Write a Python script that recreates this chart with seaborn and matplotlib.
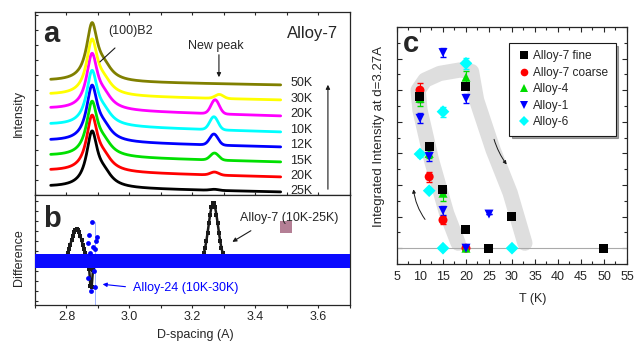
import numpy as np
import pandas as pd
import matplotlib
matplotlib.use('Agg')
import matplotlib.pyplot as plt
import seaborn as sns
from matplotlib.ticker import MultipleLocator, NullFormatter, FormatStrFormatter

sns.set_theme(style='ticks')
plt.rcParams['font.family'] = ['Liberation Sans', 'DejaVu Sans']

# ---------------- Panel a: stacked diffraction profiles ----------------
temps_a = ['25K', '20K', '15K', '12K', '10K', '20K', '30K', '50K']          # bottom -> top
colors_a = ['#000000', '#ff0000', '#00e000', '#0000ff', '#00ffff', '#ff00ff', '#ffff00', '#808000']
base_left = [8, 24, 39, 54, 70, 86, 100, 114]      # baseline at d=2.75
base_right = [3, 18, 33, 48, 63, 79, 95, 110]      # baseline at d=3.48
main_height = [53, 53, 52, 53, 52, 53, 53, 55]     # (100)B2 peak height
new_height = [1, 3, 7, 11, 13, 14, 4, 0]           # new peak height
new_center = [3.27, 3.27, 3.27, 3.268, 3.268, 3.272, 3.285, 3.29]
main_center = 2.881
main_hwhm = 0.021
shoulder_center = 2.92
shoulder_frac = 0.2
shoulder_hwhm = 0.03
new_sigma = 0.013
d_range_a = [2.75, 3.48]

# ---------------- Panel b: difference curves ----------------
diff_centers = [2.832, 2.878, 3.266]
diff_heights = [32, -30, 58]
diff_sigmas = [0.017, 0.004, 0.015]
band_half = 7
blue_spike_d = [2.880, 2.872, 2.896, 2.868, 2.884, 2.876, 2.890, 2.869, 2.877, 2.890, 2.886, 2.893]
blue_spike_y = [39, 26, 24, 18, 14, 8, 12, -17, -30, -26, -10, 20]

# ---------------- Panel c: integrated intensity vs T ----------------
T_fine = [10, 12, 15, 20, 20, 25, 30, 50]
I_fine = [4.79, 3.21, 1.86, 0.58, 5.13, 0, 1.0, 0]
E_fine = [0.15, 0.1, 0.1, 0, 0.1, 0, 0, 0]
T_coarse = [10, 12, 15, 20]
I_coarse = [5.0, 2.26, 0.89, 0]
E_coarse = [0.23, 0.16, 0.12, 0]
T_a4 = [10, 12, 15, 20, 20]
I_a4 = [4.74, 3.0, 1.74, 5.41, 0]
E_a4 = [0.24, 0.15, 0.24, 0.19, 0]
T_a1 = [10, 12, 15, 15, 20, 20, 25]
I_a1 = [4.11, 2.9, 6.19, 1.19, 4.74, 0, 1.08]
E_a1 = [0.16, 0.15, 0.13, 0.13, 0.13, 0, 0]
T_a6 = [10, 12, 15, 15, 20, 30]
I_a6 = [2.98, 1.82, 4.32, 0, 5.85, 0]
E_a6 = [0.1, 0.05, 0.16, 0, 0.18, 0]
band_T = [18.3, 15.8, 12.5, 10.0, 9.6, 11.1, 14.3, 18.7, 21.2, 22.3, 25.9, 29.6, 32.8]
band_I = [0.16, 1.10, 2.79, 4.37, 5.0, 5.32, 5.53, 5.64, 5.59, 4.69, 3.11, 1.75, 0.16]

# ---------------- figure ----------------
fig = plt.figure(figsize=(6.37, 3.48), dpi=100)
axa = fig.add_axes([0.0549, 0.4397, 0.4945, 0.5259])
axb = fig.add_axes([0.0549, 0.1236, 0.4945, 0.3161], sharex=axa)
axc = fig.add_axes([0.6232, 0.2414, 0.3611, 0.6810])

FS = 9

# panel a curves
d_a = np.linspace(d_range_a[0], d_range_a[1], 600)
rows = []
for i, t in enumerate(temps_a):
    base = base_left[i] + (base_right[i] - base_left[i]) * (d_a - d_range_a[0]) / (d_range_a[1] - d_range_a[0])
    prof = main_height[i] * (1.0 / (1 + ((d_a - main_center) / main_hwhm) ** 2))
    prof += main_height[i] * shoulder_frac / (1 + ((d_a - shoulder_center) / shoulder_hwhm) ** 2)
    prof += new_height[i] * np.exp(-0.5 * ((d_a - new_center[i]) / new_sigma) ** 2)
    for x, y in zip(d_a, base + prof):
        rows.append((f'{i}_{t}', x, y))
df_a = pd.DataFrame(rows, columns=['curve', 'd', 'I'])
sns.lineplot(data=df_a, x='d', y='I', hue='curve', palette=colors_a, legend=False,
             lw=2.0, ax=axa, estimator=None, sort=False)
axa.set_ylim(0, 183)
axa.set_xlim(2.7, 3.7)
label_y = [4, 19, 34, 50, 65, 81, 96, 112]
for t, ly in zip(temps_a, label_y):
    axa.text(3.51, ly, t, fontsize=FS, va='center', ha='left')
axa.annotate('', xy=(3.63, 113), xytext=(3.63, 3),
             arrowprops=dict(arrowstyle='-|>', lw=0.8, color='k', mutation_scale=6))
axa.text(2.932, 164, '(100)B2', fontsize=FS, va='center', ha='left')
axa.plot([2.954, 2.906], [147, 133], color='k', lw=0.8)
axa.text(3.186, 149, 'New peak', fontsize=FS, va='center', ha='left')
axa.annotate('', xy=(3.284, 115), xytext=(3.284, 143),
             arrowprops=dict(arrowstyle='-|>', lw=0.8, color='k', mutation_scale=6))
axa.text(3.50, 161, 'Alloy-7', fontsize=12, va='center', ha='left')
axa.text(0.025, 0.88, 'a', transform=axa.transAxes, fontsize=21, fontweight='bold', va='center', ha='left')
axa.set_ylabel('Intensity', fontsize=FS)
axa.yaxis.set_label_coords(-0.032, 0.443)
axa.set_xlabel('')
axa.yaxis.set_major_locator(MultipleLocator(15))
axa.yaxis.set_major_formatter(NullFormatter())
axa.xaxis.set_major_locator(MultipleLocator(0.1))
axa.tick_params(axis='x', which='both', top=True, bottom=False, direction='in', length=2.5,
                labelbottom=False, width=0.8)
axa.tick_params(axis='y', which='both', left=True, right=False, direction='in', length=2.5, width=0.8)

# panel b
d_b = np.arange(2.70, 3.7001, 0.004)
black = np.zeros_like(d_b)
for c, h, s in zip(diff_centers, diff_heights, diff_sigmas):
    black += h * np.exp(-0.5 * ((d_b - c) / s) ** 2)
df_b = pd.DataFrame({'d': d_b, 'diff': black})
axb.plot(df_b['d'], df_b['diff'], color='k', linewidth=1.8, linestyle='-', marker='s',
         markersize=2.8, markeredgewidth=0, zorder=2.5)
axb.fill_between(d_b, -band_half, band_half, color='#0a0aff', lw=0, zorder=3)
axb.plot([2.89, 2.89], [39, -44], color='#9fb3ff', lw=0.7, zorder=2)
sns.scatterplot(x=blue_spike_d, y=blue_spike_y, color='#0000ff', s=12, linewidth=0, ax=axb, zorder=4)
axb.plot([3.496], [34], marker='s', markersize=8, color='#b47f95', markeredgewidth=0)
axb.set_ylim(-44, 66)
axb.text(3.351, 43, 'Alloy-7 (10K-25K)', fontsize=FS, va='center', ha='left')
axb.annotate('', xy=(3.319, 17.7), xytext=(3.393, 31.7),
             arrowprops=dict(arrowstyle='-|>', lw=0.8, color='k', mutation_scale=6))
axb.text(3.012, -27, 'Alloy-24 (10K-30K)', fontsize=FS, va='center', ha='left', color='#0000ff')
axb.annotate('', xy=(2.906, -23), xytext=(2.996, -26),
             arrowprops=dict(arrowstyle='-|>', lw=0.8, color='#0000ff', mutation_scale=6))
axb.text(0.025, 0.78, 'b', transform=axb.transAxes, fontsize=21, fontweight='bold', va='center', ha='left')
axb.set_ylabel('Difference', fontsize=FS)
axb.yaxis.set_label_coords(-0.032, 0.427)
axb.set_xlabel('D-spacing (A)', fontsize=FS)
axb.xaxis.set_label_coords(0.51, -0.22)
axb.set_xlim(2.7, 3.7)
axb.xaxis.set_major_locator(MultipleLocator(0.2))
axb.xaxis.set_minor_locator(MultipleLocator(0.1))
axb.xaxis.set_major_formatter(FormatStrFormatter('%.1f'))
axb.yaxis.set_major_locator(MultipleLocator(10))
axb.yaxis.set_major_formatter(NullFormatter())
axb.tick_params(axis='x', which='both', bottom=True, top=True, direction='out', length=2.5,
                width=0.8, labelsize=FS, pad=1.5)
axb.tick_params(axis='y', which='both', left=True, direction='in', length=2.5, width=0.8)
for ax in (axa, axb, axc):
    for sp in ax.spines.values():
        sp.set_linewidth(0.9)
        sp.set_visible(True)

# panel c
axc.plot(band_T, band_I, color='#dedede', lw=11, solid_capstyle='round', solid_joinstyle='round', zorder=1)
axc.axhline(0, color='#aaaaaa', lw=0.8, zorder=1.5)
series = [('Alloy-7 coarse', T_coarse, I_coarse, E_coarse),
          ('Alloy-4', T_a4, I_a4, E_a4),
          ('Alloy-6', T_a6, I_a6, E_a6),
          ('Alloy-1', T_a1, I_a1, E_a1),
          ('Alloy-7 fine', T_fine, I_fine, E_fine)]
col = {'Alloy-7 fine': '#000000', 'Alloy-7 coarse': '#ff0000', 'Alloy-4': '#00dd00',
       'Alloy-1': '#0000ff', 'Alloy-6': '#00ffff'}
mk = {'Alloy-7 fine': 's', 'Alloy-7 coarse': 'o', 'Alloy-4': '^', 'Alloy-1': 'v', 'Alloy-6': 'D'}
rows = []
for name, T, I, E in series:
    for t, v, e in zip(T, I, E):
        rows.append((name, t, v, e))
df_c = pd.DataFrame(rows, columns=['series', 'T', 'I', 'E'])
for name, T, I, E in series:
    axc.errorbar(T, I, yerr=E, fmt='none', ecolor=col[name], elinewidth=0.8, capsize=2, zorder=2)
order = ['Alloy-7 fine', 'Alloy-7 coarse', 'Alloy-4', 'Alloy-1', 'Alloy-6']
sns.scatterplot(data=df_c, x='T', y='I', hue='series', style='series', hue_order=order,
                style_order=order, palette=col, markers=mk, s=42, linewidth=0, ax=axc, zorder=3)
axc.annotate('', xy=(8.54, 1.95), xytext=(11.46, 0.84),
             arrowprops=dict(arrowstyle='-|>', lw=0.7, color='k', mutation_scale=5,
                             connectionstyle='arc3,rad=-0.15'))
axc.annotate('', xy=(29.2, 2.58), xytext=(25.93, 3.53),
             arrowprops=dict(arrowstyle='-|>', lw=0.7, color='k', mutation_scale=5,
                             connectionstyle='arc3,rad=0.1'))
axc.set_xlim(5, 55)
axc.set_ylim(-0.5, 7.0)
axc.xaxis.set_major_locator(MultipleLocator(5))
axc.xaxis.set_minor_locator(MultipleLocator(2.5))
axc.yaxis.set_major_locator(MultipleLocator(1))
axc.yaxis.set_minor_locator(MultipleLocator(0.5))
axc.yaxis.set_major_formatter(NullFormatter())
axc.tick_params(axis='both', which='both', direction='in', top=True, right=True, width=0.8)
axc.tick_params(axis='both', which='major', length=3.5)
axc.tick_params(axis='both', which='minor', length=2)
axc.tick_params(axis='x', labelsize=FS, pad=5)
axc.set_xlabel('T (K)', fontsize=FS)
axc.xaxis.set_label_coords(0.589, -0.122)
axc.set_ylabel('Integrated Intensity at d=3.27A', fontsize=9.5)
axc.yaxis.set_label_coords(-0.052, 0.54)
axc.text(0.025, 0.93, 'c', transform=axc.transAxes, fontsize=21, fontweight='bold', va='center', ha='left')
h, l = axc.get_legend_handles_labels()
leg = axc.legend(h, l, loc='upper left', bbox_to_anchor=(0.463, 0.957), fontsize=8.6,
                 frameon=True, fancybox=False, shadow=True, edgecolor='k', framealpha=1,
                 handletextpad=0.2, borderpad=0.6, labelspacing=0.38, handlelength=1.2,
                 markerscale=0.85)
leg.get_frame().set_linewidth(0.8)

fig.savefig('out.png', dpi=100)
